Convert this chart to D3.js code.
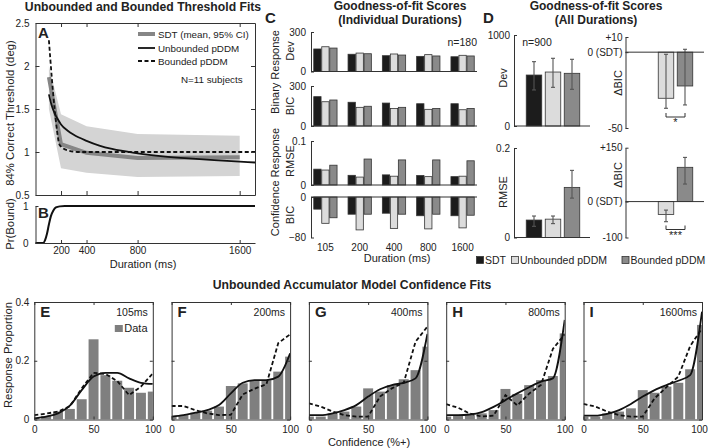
<!DOCTYPE html>
<html><head><meta charset="utf-8">
<script src="https://cdn.jsdelivr.net/npm/d3@7"></script>
<style>
body{margin:0;background:#fff}
svg{display:block;font-family:"Liberation Sans",Arial,Helvetica,sans-serif}
</style></head><body>
<svg id="c" width="708" height="448"></svg>
<script>
// ================= DATA =================
// Panel A: thresholds (deg) vs duration (ms)
const thrDur   = [105, 200, 400, 800, 1600];
const sdtMean  = [1.87, 1.09, 0.99, 0.93, 0.94];
const sdtUpper = [2.00, 1.44, 1.30, 1.21, 1.19];
const sdtLower = [1.50, 0.81, 0.76, 0.71, 0.72];
const unbDur   = [105, 125, 150, 175, 200, 250, 300, 400, 500, 600, 800, 1000, 1200, 1400, 1600, 1720];
const unbThr   = [1.67, 1.55, 1.45, 1.38, 1.32, 1.25, 1.20, 1.13, 1.075, 1.035, 0.985, 0.95, 0.925, 0.905, 0.888, 0.878];
const bndDur   = [105, 150, 190, 250, 350, 1720];
const bndThr   = [2.30, 1.50, 1.08, 1.02, 1.00, 1.00];
const durTicks = [200, 400, 800, 1600];
// Panel B: Pr(Bound)
const pbDur = [0, 60, 75, 90, 105, 120, 140, 160, 190, 230, 1720];
const pbVal = [0, 0, 0.08, 0.25, 0.5, 0.72, 0.88, 0.96, 0.99, 1, 1];
// Panel C: per-duration scores [SDT, Unbounded, Bounded]
const durLabels = ['105', '200', '400', '800', '1600'];
const binDev  = [[171,188,178],[131,140,135],[120,133,125],[115,128,118],[112,123,118]];
const binBIC  = [[220,182,195],[178,140,148],[172,132,140],[167,125,132],[167,122,132]];
const confRMSE = [[0.036,0.034,0.045],[0.022,0.018,0.059],[0.023,0.020,0.057],[0.0215,0.019,0.057],[0.019,0.020,0.055]];
const confBIC = [[-24,-52,-41],[-34,-65,-34],[-32,-62,-34],[-37,-63,-34],[-37,-61,-36]];
// Panel D: all durations
const modelNames = ['SDT', 'Unbounded pDDM', 'Bounded pDDM'];
const devAll = [560, 593, 579], devLo = [396, 425, 403], devHi = [707, 744, 733];
const rmseAll = [0.039, 0.041, 0.112], rmseLo = [0.025, 0.031, 0.088], rmseHi = [0.048, 0.048, 0.150];
const dBicBin = [-30.4, -22.3], dBicBinLo = [-37, -34.8], dBicBinHi = [-1.4, 1.9];
const dBicConf = [-35.7, 95.4], dBicConfLo = [-56, 48.8], dBicConfHi = [-23.7, 123];
// Panels E-I: confidence histograms
const confBins = [0, 10, 20, 30, 40, 50, 60, 70, 80, 90, 100];
const histLetters = ['E', 'F', 'G', 'H', 'I'];
const histDurs = ['105ms', '200ms', '400ms', '800ms', '1600ms'];
const histData = [
  [0.005,0.012,0.027,0.036,0.069,0.273,0.151,0.132,0.108,0.091,0.095],
  [0.012,0.015,0.023,0.030,0.044,0.114,0.123,0.134,0.134,0.163,0.214],
  [0.010,0.010,0.021,0.027,0.044,0.106,0.095,0.117,0.137,0.168,0.248],
  [0.010,0.012,0.015,0.021,0.032,0.104,0.087,0.117,0.134,0.148,0.293],
  [0.010,0.010,0.021,0.027,0.038,0.100,0.091,0.112,0.125,0.171,0.322]];
const histUnb = [
  [0.004,0.010,0.021,0.047,0.100,0.146,0.159,0.159,0.140,0.125,0.121],
  [0.010,0.015,0.023,0.032,0.049,0.089,0.125,0.134,0.134,0.146,0.225],
  [0.015,0.015,0.021,0.032,0.049,0.078,0.103,0.117,0.125,0.140,0.291],
  [0.015,0.015,0.017,0.025,0.043,0.066,0.089,0.110,0.129,0.140,0.339],
  [0.013,0.013,0.019,0.032,0.053,0.078,0.100,0.117,0.132,0.151,0.367]];
const histBnd = [
  [0.015,0.020,0.027,0.045,0.106,0.159,0.155,0.131,0.083,0.112,0.157],
  [0.046,0.046,0.032,0.021,0.015,0.016,0.085,0.105,0.120,0.260,0.290],
  [0.055,0.044,0.027,0.015,0.010,0.010,0.078,0.106,0.125,0.265,0.316],
  [0.052,0.040,0.020,0.010,0.013,0.083,0.048,0.088,0.118,0.240,0.290],
  [0.053,0.044,0.027,0.015,0.010,0.010,0.072,0.110,0.146,0.250,0.310]];

// ================= DRAWING =================
const FONT = '"Liberation Sans", Arial, Helvetica, sans-serif';
const INK = '#222';
const AX = '#333';
const barFill = ['#1c1c1c', '#dcdcdc', '#8a8a8a'];
const svg = d3.select('#c');

function text(x, y, s, o = {}) {
  const t = svg.append('text').attr('x', x).attr('y', y).text(s)
    .attr('font-size', o.size || 10).attr('fill', o.fill || INK)
    .attr('font-family', FONT)
    .attr('text-anchor', o.anchor || 'start')
    .attr('font-weight', o.bold ? 'bold' : 'normal');
  if (o.rotate) t.attr('transform', `rotate(-90,${x},${y})`);
  return t;
}
function styleAxis(g) {
  g.attr('font-family', FONT).attr('font-size', 10);
  g.selectAll('path,line').attr('stroke', AX).attr('stroke-width', 1);
  g.selectAll('text').attr('fill', INK);
  return g;
}
function axis(gen, tx, ty) {
  return styleAxis(svg.append('g').attr('transform', `translate(${tx},${ty})`).call(gen));
}
const fmt = d3.format('~g');

// ---------- Titles ----------
text(143, 11, 'Unbounded and Bounded Threshold Fits', {size: 12.2, bold: true, anchor: 'middle'});
text(400, 10, 'Goodness-of-fit Scores', {size: 12, bold: true, anchor: 'middle'});
text(400, 23.5, '(Individual Durations)', {size: 12, bold: true, anchor: 'middle'});
text(596, 10, 'Goodness-of-fit Scores', {size: 12, bold: true, anchor: 'middle'});
text(596, 23.5, '(All Durations)', {size: 12, bold: true, anchor: 'middle'});
text(352, 289, 'Unbounded Accumulator Model Confidence Fits', {size: 12.2, bold: true, anchor: 'middle'});

// ---------- Panel A ----------
const xA = d3.scaleLinear().domain([0, 1720]).range([35.5, 255]);
const yA = d3.scaleLinear().domain([0.5, 2.5]).range([195, 23]);
svg.append('clipPath').attr('id', 'clipA').append('rect')
  .attr('x', xA.range()[0]).attr('y', yA.range()[1])
  .attr('width', xA.range()[1] - xA.range()[0]).attr('height', yA.range()[0] - yA.range()[1]);
const gA = svg.append('g').attr('clip-path', 'url(#clipA)');
const bandIdx = d3.range(thrDur.length);
gA.append('path').datum(bandIdx)
  .attr('d', d3.area().x(i => xA(thrDur[i])).y0(i => yA(sdtLower[i])).y1(i => yA(sdtUpper[i])))
  .attr('fill', '#d4d4d4');
gA.append('path').datum(bandIdx)
  .attr('d', d3.line().x(i => xA(thrDur[i])).y(i => yA(sdtMean[i])))
  .attr('fill', 'none').attr('stroke', '#868686').attr('stroke-width', 4);
gA.append('path').datum(d3.range(unbDur.length))
  .attr('d', d3.line().curve(d3.curveMonotoneX).x(i => xA(unbDur[i])).y(i => yA(unbThr[i])))
  .attr('fill', 'none').attr('stroke', '#111').attr('stroke-width', 1.8);
gA.append('path').datum(d3.range(bndDur.length))
  .attr('d', d3.line().curve(d3.curveMonotoneX).x(i => xA(bndDur[i])).y(i => yA(bndThr[i])))
  .attr('fill', 'none').attr('stroke', '#111').attr('stroke-width', 1.8).attr('stroke-dasharray', '4,2.5');
const aTicks = [0.5, 1, 1.5, 2, 2.5];
axis(d3.axisLeft(yA).tickValues(aTicks).tickFormat(fmt).tickSize(-4).tickSizeOuter(0).tickPadding(6), xA.range()[0], 0);
axis(d3.axisRight(yA).tickValues(aTicks).tickFormat('').tickSize(-4).tickSizeOuter(0), xA.range()[1], 0);
axis(d3.axisBottom(xA).tickValues(durTicks).tickFormat('').tickSize(-4).tickSizeOuter(0), 0, yA.range()[0]);
axis(d3.axisTop(xA).tickValues(durTicks).tickFormat('').tickSize(-4).tickSizeOuter(0), 0, yA.range()[1]);
text(10, 113, '84% Correct Threshold (deg)', {size: 11.3, anchor: 'middle', rotate: true}).attr('dy', '0.35em');
text(38, 38, 'A', {size: 15, bold: true});
// legend A
const legA = [
  {y: 34, color: '#868686', w: 4, dash: null, label: 'SDT (mean, 95% CI)'},
  {y: 48, color: '#111', w: 1.8, dash: null, label: 'Unbounded pDDM'},
  {y: 61, color: '#111', w: 1.8, dash: '4,2.5', label: 'Bounded pDDM'}];
legA.forEach(d => {
  svg.append('line').attr('x1', 138).attr('x2', 155).attr('y1', d.y).attr('y2', d.y)
    .attr('stroke', d.color).attr('stroke-width', d.w).attr('stroke-dasharray', d.dash);
  text(158, d.y + 3.5, d.label, {size: 9.8});
});
text(181, 83, 'N=11 subjects', {size: 9.8});

// ---------- Panel B ----------
const yB = d3.scaleLinear().domain([0, 1]).range([243, 206]);
svg.append('path').datum(d3.range(pbDur.length))
  .attr('d', d3.line().curve(d3.curveMonotoneX).x(i => xA(pbDur[i])).y(i => yB(pbVal[i])))
  .attr('fill', 'none').attr('stroke', '#111').attr('stroke-width', 2);
axis(d3.axisLeft(yB).tickValues([0, 1]).tickFormat(fmt).tickSize(-3).tickSizeOuter(0).tickPadding(7), xA.range()[0], 0);
axis(d3.axisBottom(xA).tickValues(durTicks).tickFormat(fmt).tickSize(-3).tickSizeOuter(0).tickPadding(4), 0, yB.range()[0]);
text(10, 224, 'Pr(Bound)', {size: 11.3, anchor: 'middle', rotate: true}).attr('dy', '0.35em');
text(143, 268, 'Duration (ms)', {size: 11, anchor: 'middle'});
text(38, 218, 'B', {size: 15, bold: true});

// ---------- Panel C ----------
const xC = d3.scaleLinear().domain([-0.42, 4.42]).range([311, 477]);
const bw = 7.3, boff = [-8, 0, 8];
function cSub(values, yScale, ticks) {
  const zeroY = yScale(0);
  values.forEach((grp, gi) => {
    grp.forEach((v, mi) => {
      const y1 = yScale(v);
      svg.append('rect').attr('x', xC(gi) + boff[mi] - bw / 2).attr('width', bw)
        .attr('y', Math.min(y1, zeroY)).attr('height', Math.abs(zeroY - y1))
        .attr('fill', barFill[mi]).attr('stroke', '#333').attr('stroke-width', 0.8);
    });
  });
  axis(d3.axisLeft(yScale).tickValues(ticks).tickFormat(fmt).tickSize(-3).tickSizeOuter(0).tickPadding(5), xC.range()[0], 0);
  svg.append('line').attr('x1', xC.range()[0]).attr('x2', xC.range()[1]).attr('y1', zeroY).attr('y2', zeroY)
    .attr('stroke', AX).attr('stroke-width', 1);
}
const yC1 = d3.scaleLinear().domain([0, 300]).range([71.5, 32]);
const yC2 = d3.scaleLinear().domain([0, 300]).range([126, 86]);
const yC3 = d3.scaleLinear().domain([0, 0.1]).range([185, 141]);
const yC4 = d3.scaleLinear().domain([-80, 0]).range([237.5, 197]);
cSub(binDev, yC1, [0, 300]);
cSub(binBIC, yC2, [0, 300]);
cSub(confRMSE, yC3, [0, 0.1]);
cSub(confBIC, yC4, [-80, 0]);
text(290, 51, 'Dev', {size: 11, anchor: 'middle', rotate: true}).attr('dy', '0.35em');
text(290, 106, 'BIC', {size: 11, anchor: 'middle', rotate: true}).attr('dy', '0.35em');
text(290, 161, 'RMSE', {size: 11, anchor: 'middle', rotate: true}).attr('dy', '0.35em');
text(290, 215, 'BIC', {size: 11, anchor: 'middle', rotate: true}).attr('dy', '0.35em');
text(275, 72, 'Binary Response', {size: 11, anchor: 'middle', rotate: true}).attr('dy', '0.35em');
text(275, 182, 'Confidence Response', {size: 11, anchor: 'middle', rotate: true}).attr('dy', '0.35em');
durLabels.forEach((d, i) => text(xC(i), 250.5, d, {size: 10, anchor: 'middle'}));
text(397, 262, 'Duration (ms)', {size: 11, anchor: 'middle'});
text(477, 46, 'n=180', {size: 10.5, anchor: 'end'});
text(265, 23, 'C', {size: 15, bold: true});

// ---------- Panel D ----------
const xD = d3.scaleLinear().domain([0, 2]).range([534, 572]);
const xD2 = d3.scaleLinear().domain([0, 2]).range([647, 685]);
const bwD = 15.5;
function errBar(x, yLo, yHi) {
  svg.append('line').attr('x1', x).attr('x2', x).attr('y1', yLo).attr('y2', yHi).attr('stroke', '#555').attr('stroke-width', 1.1);
  [yLo, yHi].forEach(y => svg.append('line').attr('x1', x - 2).attr('x2', x + 2).attr('y1', y).attr('y2', y).attr('stroke', '#555').attr('stroke-width', 1.1));
}
function dBars(vals, lo, hi, yScale, xs, startIdx) {
  const z = yScale(0);
  vals.forEach((v, i) => {
    const mi = i + startIdx, y1 = yScale(v), x = xs(mi);
    svg.append('rect').attr('x', x - bwD / 2).attr('width', bwD)
      .attr('y', Math.min(y1, z)).attr('height', Math.abs(z - y1))
      .attr('fill', barFill[mi]).attr('stroke', '#333').attr('stroke-width', 0.8);
    errBar(x, yScale(lo[i]), yScale(hi[i]));
  });
}
const yDdev = d3.scaleLinear().domain([0, 1000]).range([126, 35]);
const yDrm = d3.scaleLinear().domain([0, 0.2]).range([237.5, 148]);
dBars(devAll, devLo, devHi, yDdev, xD, 0);
dBars(rmseAll, rmseLo, rmseHi, yDrm, xD, 0);
[[yDdev, [0, 1000]], [yDrm, [0, 0.2]]].forEach(([ys, tv]) => {
  axis(d3.axisLeft(ys).tickValues(tv).tickFormat(fmt).tickSize(-3).tickSizeOuter(0).tickPadding(4), 514, 0);
  svg.append('line').attr('x1', 514).attr('x2', 590).attr('y1', ys(0)).attr('y2', ys(0)).attr('stroke', AX);
});
text(503, 78, 'Dev', {size: 11, anchor: 'middle', rotate: true}).attr('dy', '0.35em');
text(503, 192, 'RMSE', {size: 11, anchor: 'middle', rotate: true}).attr('dy', '0.35em');
text(537, 46, 'n=900', {size: 10.5, anchor: 'middle'});
text(483, 23, 'D', {size: 15, bold: true});

const yDb1 = d3.scaleLinear().domain([-50, 10]).range([128, 37]);
const yDb2 = d3.scaleLinear().domain([-100, 150]).range([237.5, 147.7]);
const sdtFmt = d => d === 0 ? '0 (SDT)' : (d > 0 ? '+' + d : String(d));
[[yDb1, [-50, 0, 10], dBicBin, dBicBinLo, dBicBinHi], [yDb2, [-100, 0, 150], dBicConf, dBicConfLo, dBicConfHi]].forEach(([ys, tv, v, lo, hi]) => {
  dBars(v, lo, hi, ys, xD2, 1);
  axis(d3.axisLeft(ys).tickValues(tv).tickFormat(sdtFmt).tickSize(-3).tickSizeOuter(0).tickPadding(3), 625.5, 0);
  svg.append('line').attr('x1', 625.5).attr('x2', 704).attr('y1', ys(0)).attr('y2', ys(0)).attr('stroke', AX);
});
text(618, 83, '\u0394BIC', {size: 11, anchor: 'middle', rotate: true}).attr('dy', '0.35em');
text(618, 175, '\u0394BIC', {size: 11, anchor: 'middle', rotate: true}).attr('dy', '0.35em');
// significance brackets
function bracket(y, label) {
  const x1 = xD2(1), x2 = xD2(2);
  svg.append('path').attr('d', `M${x1},${y - 4}V${y}H${x2}V${y - 4}`).attr('fill', 'none').attr('stroke', '#333').attr('stroke-width', 1);
  text((x1 + x2) / 2, y + 9, label, {size: 11, anchor: 'middle'});
}
bracket(117, '*');
bracket(229.5, '***');
// legend D
const legX = [476.5, 511.5, 622];
modelNames.forEach((m, i) => {
  svg.append('rect').attr('x', legX[i]).attr('y', 256.5).attr('width', 7).attr('height', 7)
    .attr('fill', barFill[i]).attr('stroke', '#333').attr('stroke-width', 0.8);
  text(legX[i] + 8.5, 264, m, {size: 10.5});
});

// ---------- Panels E-I ----------
const hTop = 302, hBot = 419.5, hW = 118.5;
const yH = d3.scaleLinear().domain([0, 0.4]).range([hBot, hTop]);
histLetters.forEach((L, p) => {
  const x0 = 34.3 + 137.3 * p;
  const xH = d3.scaleLinear().domain([0, 100]).range([x0, x0 + hW]);
  const cid = 'clipH' + p;
  svg.append('clipPath').attr('id', cid).append('rect').attr('x', x0).attr('y', hTop - 2).attr('width', hW).attr('height', hBot - hTop + 2);
  const g = svg.append('g').attr('clip-path', `url(#${cid})`);
  const barW = xH(8.4) - xH(0);
  g.selectAll('rect.bar').data(confBins).join('rect').attr('class', 'bar')
    .attr('x', (d) => xH(d) - barW / 2).attr('width', barW)
    .attr('y', (d, i) => yH(histData[p][i])).attr('height', (d, i) => hBot - yH(histData[p][i]))
    .attr('fill', '#7f7f7f');
  g.append('path').datum(confBins.map((b, i) => [b, histUnb[p][i]]))
    .attr('d', d3.line().curve(d3.curveMonotoneX).x(d => xH(d[0])).y(d => yH(d[1])))
    .attr('fill', 'none').attr('stroke', '#111').attr('stroke-width', 1.8);
  g.append('path').datum(confBins.map((b, i) => [b, histBnd[p][i]]))
    .attr('d', d3.line().x(d => xH(d[0])).y(d => yH(d[1])))
    .attr('fill', 'none').attr('stroke', '#111').attr('stroke-width', 1.8).attr('stroke-dasharray', '4,2.5');
  axis(d3.axisLeft(yH).tickValues([0, 0.2, 0.4]).tickFormat(p === 0 ? fmt : '').tickSize(-3).tickSizeOuter(0).tickPadding(5), x0, 0);
  axis(d3.axisRight(yH).tickValues([0, 0.2, 0.4]).tickFormat('').tickSize(-3).tickSizeOuter(0), x0 + hW, 0);
  const gx = axis(d3.axisBottom(xH).tickValues([0, 50, 100]).tickFormat(fmt).tickSize(-3).tickSizeOuter(0).tickPadding(6), 0, hBot);
  if (p === histLetters.length - 1) gx.selectAll('.tick:last-of-type text').attr('dx', -3);
  axis(d3.axisTop(xH).tickValues([0, 50, 100]).tickFormat('').tickSize(-3).tickSizeOuter(0), 0, hTop);
  text(x0 + 6, 317, L, {size: 15, bold: true});
  text(x0 + hW - 5, 315.5, histDurs[p], {size: 10.5, anchor: 'end'});
  if (p === 0) {
    svg.append('rect').attr('x', x0 + 80.5).attr('y', 325).attr('width', 8).attr('height', 7).attr('fill', '#7f7f7f');
    text(x0 + 90, 332, 'Data', {size: 11});
  }
});
text(8, 355, 'Response Proportion', {size: 11.3, anchor: 'middle', rotate: true}).attr('dy', '0.35em');
text(369, 446, 'Confidence (%+)', {size: 11, anchor: 'middle'});
</script>
</body></html>
